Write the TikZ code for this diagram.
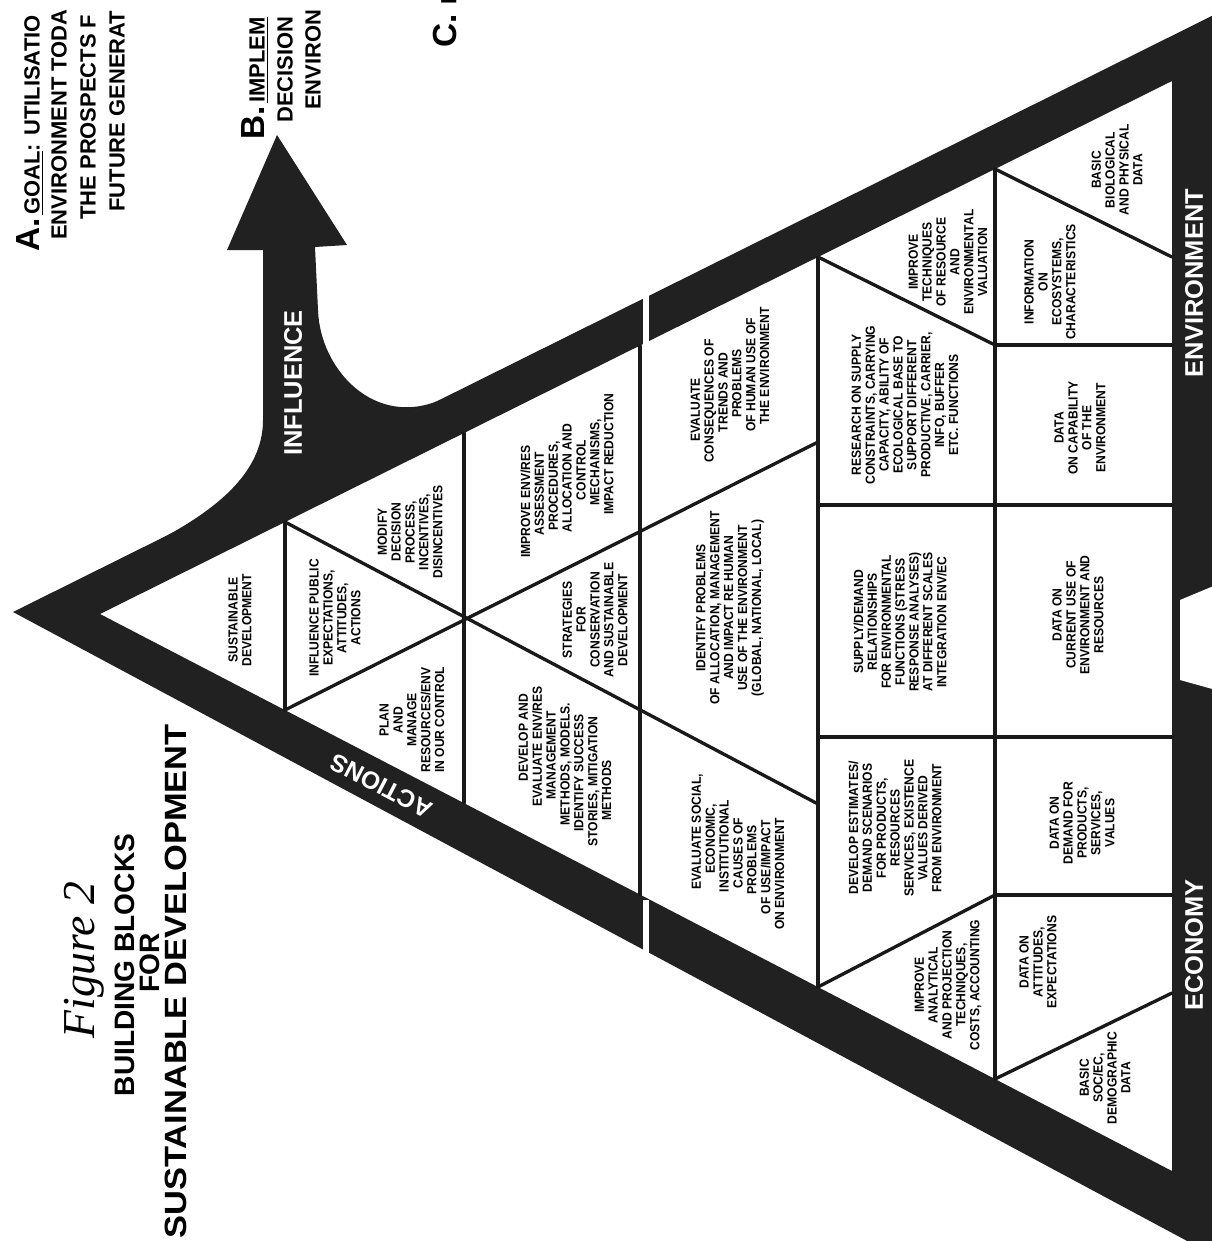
\documentclass[tikz,border=0pt]{standalone}
\usepackage{fontspec}
\setmainfont{Liberation Sans}
\newfontfamily\cellfont[FakeStretch=0.92]{Liberation Sans}
\newfontfamily\widefont[FakeStretch=1.12]{Liberation Sans}
\newfontfamily\figfont{Liberation Serif}
\newcommand\lsh[1]{\hspace*{#1pt}}
\begin{document}
\begin{tikzpicture}[x=0.02cm,y=-0.02cm,
  cell/.style={rotate=90,align=center,inner sep=0pt,
    font=\cellfont\bfseries\fontsize{7.5}{7.9}\selectfont},
  cellline/.style={line width=1.9pt,line cap=round,black!90},
  band/.style={fill=black!87},
  rim/.style={rotate=90,inner sep=0pt,text=white,font=\bfseries\fontsize{14.5}{14.5}\selectfont},
  goal/.style={rotate=90,anchor=west,inner sep=0pt,font=\bfseries\fontsize{12.5}{12.5}\selectfont},
  headline/.style={rotate=90,inner sep=0pt,font=\bfseries\fontsize{16}{16}\selectfont}]
\useasboundingbox (0,0) rectangle (1212,1241);

% black frame of the triangle
\fill[band,even odd rule] (13,612) -- (1260,-8) -- (1260,1280) -- cycle
  (100,614) -- (1172,81) -- (1172,1171) -- cycle;
\draw[white,line width=3pt] (646,285) -- (646,344);
\draw[white,line width=3pt] (646,900) -- (646,965);
\fill[white] (1180,600) -- (1216,585) -- (1216,690) -- (1180,680) -- cycle;

% influence arrow
\fill[band] (120,560) .. controls (180,530) and (263,490) .. (263,420) -- (263,250)
  -- (227,250) -- (277,135) -- (347,245) -- (315,247) -- (318,310)
  .. controls (320,370) and (375,428) .. (440,400) -- cycle;

% rows
\draw[cellline] (285,522) -- (285,710);
\draw[cellline] (464,433) -- (464,803);
\draw[cellline] (640,346) -- (640,895);
\draw[cellline] (818,257) -- (818,987);
\draw[cellline] (995,169) -- (995,1079);
% slanted walls
\draw[cellline] (285,522) -- (818,804);
\draw[cellline] (285,710) -- (818,442);
\draw[cellline] (818,257) -- (995,345);
\draw[cellline] (995,169) -- (1172,257);
\draw[cellline] (818,987) -- (995,895);
\draw[cellline] (995,1079) -- (1172,993);
% straight walls
\draw[cellline] (818,505) -- (1172,505);
\draw[cellline] (818,737) -- (1172,737);
\draw[cellline] (995,345) -- (1172,345);
\draw[cellline] (995,895) -- (1172,895);

% side labels
\node[rim] (infl) at (293,383) {INFLUENCE};
\node[rim] (envi) at (1194,283) {ENVIRONMENT};
\node[rim] (econ) at (1194,945) {ECONOMY};
\node[inner sep=0pt,text=white,rotate=152.5,font=\bfseries\fontsize{14}{14}\selectfont] (act) at (381,786) {ACTIONS};

% cells
\node[cell] (sd) at (240,620) {SUSTAINABLE\\DEVELOPMENT};
\node[cell] (ip) at (335,618) {INFLUENCE PUBLIC\\EXPECTATIONS,\\ATTITUDES,\\ACTIONS};
\node[cell] (pm) at (412,720) {PLAN\\AND\\MANAGE\\RESOURCES/ENV\\IN OUR CONTROL};
\node[cell] (md) at (410,532) {MODIFY\\DECISION\\PROCESS,\\INCENTIVES,\\DISINCENTIVES};
\node[cell] (ier) at (567,478) {\lsh{-27}IMPROVE ENV/RES\\\lsh{-18}ASSESSMENT\\\lsh{-9}PROCEDURES,\\ALLOCATION AND\\\lsh{9}CONTROL\\\lsh{18}MECHANISMS,\\\lsh{27}IMPACT REDUCTION};
\node[cell] (sc) at (595,620) {STRATEGIES\\FOR\\CONSERVATION\\AND SUSTAINABLE\\DEVELOPMENT};
\node[cell] (dev) at (565,764) {\lsh{30}DEVELOP AND\\\lsh{20}EVALUATE ENV/RES\\\lsh{10}MANAGEMENT\\METHODS, MODELS.\\\lsh{-10}IDENTIFY SUCCESS\\\lsh{-20}STORIES, MITIGATION\\\lsh{-30}METHODS};
\node[cell] (ecq) at (730,388) {\lsh{-25}EVALUATE\\\lsh{-15}CONSEQUENCES OF\\\lsh{-5}TRENDS AND\\\lsh{5}PROBLEMS\\\lsh{15}OF HUMAN USE OF\\\lsh{25}THE ENVIRONMENT};
\node[cell] (idp) at (730,608) {IDENTIFY PROBLEMS\\OF ALLOCATION, MANAGEMENT\\AND IMPACT RE HUMAN\\USE OF THE ENVIRONMENT\\(GLOBAL, NATIONAL, LOCAL)};
\node[cell] (esc) at (738,853) {\lsh{24}EVALUATE SOCIAL,\\\lsh{16}ECONOMIC,\\\lsh{8}INSTITUTIONAL\\CAUSES OF\\\lsh{-8}PROBLEMS\\\lsh{-16}OF USE/IMPACT\\\lsh{-24}ON ENVIRONMENT};
\node[cell] (rsc) at (905,405) {RESEARCH ON SUPPLY\\CONSTRAINTS, CARRYING\\CAPACITY, ABILITY OF\\ECOLOGICAL BASE TO\\SUPPORT DIFFERENT\\PRODUCTIVE, CARRIER,\\INFO, BUFFER\\ETC. FUNCTIONS};
\node[cell] (sdr) at (900,622) {SUPPLY/DEMAND\\RELATIONSHIPS\\FOR ENVIRONMENTAL\\FUNCTIONS (STRESS\\RESPONSE ANALYSES)\\AT DIFFERENT SCALES\\INTEGRATION ENV/EC};
\node[cell] (des) at (895,828) {DEVELOP ESTIMATES/\\DEMAND SCENARIOS\\FOR PRODUCTS,\\RESOURCES\\SERVICES, EXISTENCE\\VALUES DERIVED\\FROM ENVIRONMENT};
\node[cell] (itr) at (948,262) {IMPROVE\\TECHNIQUES\\OF RESOURCE\\AND\\ENVIRONMENTAL\\VALUATION};
\node[cell] (iap) at (948,985) {IMPROVE\\ANALYTICAL\\AND PROJECTION\\TECHNIQUES,\\COSTS, ACCOUNTING};
\node[cell] (bbp) at (1117,170) {BASIC\\BIOLOGICAL\\AND PHYSICAL\\DATA};
\node[cell] (ioe) at (1050,282) {INFORMATION\\ON\\ECOSYSTEMS,\\CHARACTERISTICS};
\node[cell] (dce) at (1080,428) {DATA\\ON CAPABILITY\\OF THE\\ENVIRONMENT};
\node[cell] (dcu) at (1078,615) {DATA ON\\CURRENT USE OF\\ENVIRONMENT AND\\RESOURCES};
\node[cell] (ddp) at (1082,823) {DATA ON\\DEMAND FOR\\PRODUCTS,\\SERVICES,\\VALUES};
\node[cell] (dae) at (1038,962) {DATA ON\\ATTITUDES,\\EXPECTATIONS};
\node[cell] (bsd) at (1105,1078) {BASIC\\SOC/EC,\\DEMOGRAPHIC\\DATA};

% title
\node[rotate=90,inner sep=0pt,font=\figfont\itshape\fontsize{26}{26}\selectfont] (fig) at (84,960) {Figure 2};
\node[headline] (tl1) at (125,965) {BUILDING BLOCKS};
\node[headline] (tl2) at (150,963) {FOR};
\node[headline,anchor=east,font=\widefont\bfseries\fontsize{17.5}{17.5}\selectfont] (tl3) at (176,724) {SUSTAINABLE DEVELOPMENT};

% goal texts at the top edge
\node[goal] (ga1) at (30,252) {{\fontsize{19}{19}\selectfont A.}\,\underline{GOAL}: UTILISATIO};
\node[goal] (ga2) at (59,240) {ENVIRONMENT TODA};
\node[goal] (ga3) at (88,220) {THE PROSPECTS F};
\node[goal] (ga4) at (117,212) {FUTURE GENERAT};
\node[goal] (gb1) at (255,140) {{\fontsize{19}{19}\selectfont B.}\,\underline{IMPLEM}};
\node[goal] (gb2) at (285,123) {DECISION};
\node[goal] (gb3) at (313,110) {ENVIRON};
\node[goal] (gc1) at (445,48) {{\fontsize{19}{19}\selectfont C.}\, I};
\end{tikzpicture}
\end{document}
